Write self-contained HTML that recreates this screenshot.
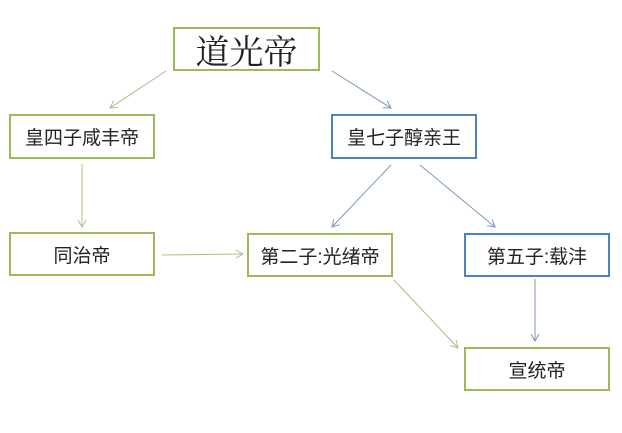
<!DOCTYPE html>
<html><head><meta charset="utf-8"><style>
body{margin:0;background:#fff;width:622px;height:433px;overflow:hidden;position:relative;font-family:"Liberation Sans","Noto Sans CJK SC",sans-serif}
.b{position:absolute;box-sizing:border-box;border:2.5px solid #9bbb59;display:flex;align-items:center;justify-content:center;font-size:19px;color:#222;background:#fff}
.bl{border-color:#4f81bd}
svg{position:absolute;left:0;top:0}
</style></head><body>
<svg width="622" height="433">
<defs>
<marker id="g" markerWidth="10" markerHeight="10" refX="8" refY="5" orient="auto" markerUnits="userSpaceOnUse"><path d="M1,1 L8,5 L1,9" fill="none" stroke="#a9c084" stroke-width="1"/></marker>
<marker id="u" markerWidth="10" markerHeight="10" refX="8" refY="5" orient="auto" markerUnits="userSpaceOnUse"><path d="M1,1 L8,5 L1,9" fill="none" stroke="#7b97c0" stroke-width="1"/></marker>
</defs>
<g fill="none" stroke-width="1">
<line x1="166" y1="71" x2="110" y2="108" stroke="#a9c084" marker-end="url(#g)"/>
<line x1="332" y1="71" x2="391" y2="108" stroke="#7b97c0" marker-end="url(#u)"/>
<line x1="82" y1="164" x2="82" y2="227" stroke="#a9c084" marker-end="url(#g)"/>
<line x1="391" y1="165" x2="332" y2="227" stroke="#7b97c0" marker-end="url(#u)"/>
<line x1="420" y1="165" x2="495" y2="227" stroke="#7b97c0" marker-end="url(#u)"/>
<line x1="162" y1="255" x2="243" y2="254" stroke="#a9c084" marker-end="url(#g)"/>
<line x1="394" y1="280" x2="458" y2="348" stroke="#a9c084" marker-end="url(#g)"/>
<line x1="535" y1="279" x2="535" y2="341" stroke="#7b97c0" marker-end="url(#u)"/>
</g>
</svg>
<div class="b" style="left:173px;top:27px;width:147px;height:44px;font-size:34px;font-family:'Liberation Serif','Noto Serif CJK SC',serif">道光帝</div>
<div class="b" style="left:9px;top:114px;width:146px;height:45px">皇四子咸丰帝</div>
<div class="b bl" style="left:331px;top:114px;width:146px;height:45px">皇七子醇亲王</div>
<div class="b" style="left:9px;top:232px;width:146px;height:44px">同治帝</div>
<div class="b" style="left:247px;top:233px;width:146px;height:44px">第二子:光绪帝</div>
<div class="b bl" style="left:464px;top:233px;width:146px;height:44px">第五子:载沣</div>
<div class="b" style="left:464px;top:347px;width:146px;height:44px">宣统帝</div>
</body></html>
